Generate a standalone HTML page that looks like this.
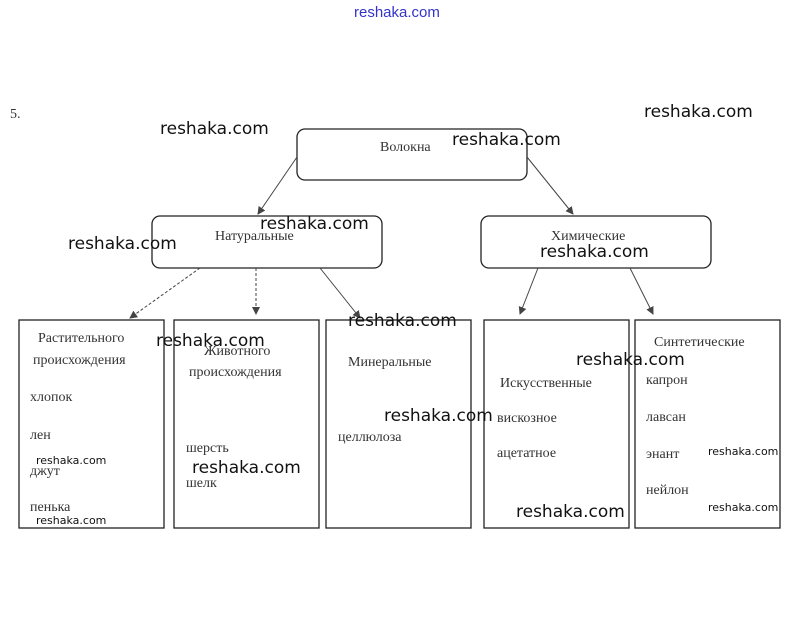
<!DOCTYPE html>
<html><head><meta charset="utf-8"><style>
html,body{margin:0;padding:0;background:#fff;width:804px;height:629px;overflow:hidden}
svg{display:block}
.s{font-family:"Liberation Serif",serif;font-size:14px;fill:#333}
.w{font-family:"DejaVu Sans","Liberation Sans",sans-serif;font-size:17px;fill:#111}
.ws{font-family:"DejaVu Sans","Liberation Sans",sans-serif;font-size:11px;fill:#111}
</style></head><body>
<svg width="804" height="629" viewBox="0 0 804 629">
<defs><marker id="a" markerWidth="8" markerHeight="8" refX="7" refY="4" orient="auto"><path d="M0,0 L8,4 L0,8 z" fill="#444"/></marker></defs>
<text x="354" y="17" font-family="Liberation Sans,sans-serif" font-size="15" fill="#3333cc">reshaka.com</text>
<text x="10" y="118" class="s" font-size="16">5.</text>
<g fill="none" stroke="#222" stroke-width="1.3">
<rect x="297" y="129" width="230" height="51" rx="8"/>
<rect x="152" y="216" width="230" height="52" rx="8"/>
<rect x="481" y="216" width="230" height="52" rx="8"/>
<rect x="19" y="320" width="145" height="208"/>
<rect x="174" y="320" width="145" height="208"/>
<rect x="326" y="320" width="145" height="208"/>
<rect x="484" y="320" width="145" height="208"/>
<rect x="635" y="320" width="145" height="208"/>
</g>
<g stroke="#444" stroke-width="1" fill="none" marker-end="url(#a)">
<line x1="297" y1="157" x2="258" y2="214"/>
<line x1="527" y1="157" x2="573" y2="214"/>
<line x1="200" y1="268" x2="130" y2="318" stroke-dasharray="3,2"/>
<line x1="256" y1="268" x2="256" y2="314" stroke-dasharray="3,2"/>
<line x1="320" y1="268" x2="360" y2="318"/>
<line x1="538" y1="268" x2="520" y2="314"/>
<line x1="630" y1="268" x2="653" y2="314"/>
</g>
<text x="380" y="151" class="s">Волокна</text>
<text x="215" y="240" class="s">Натуральные</text>
<text x="551" y="240" class="s">Химические</text>
<text x="38" y="342" class="s">Растительного</text>
<text x="33" y="364" class="s">происхождения</text>
<text x="204" y="355" class="s" fill="#777">Животного</text>
<text x="189" y="376" class="s">происхождения</text>
<text x="348" y="366" class="s" fill="#777">Минеральные</text>
<text x="500" y="387" class="s">Искусственные</text>
<text x="654" y="346" class="s" fill="#777">Синтетические</text>
<g class="s">
<text x="30" y="401">хлопок</text><text x="30" y="439">лен</text><text x="30" y="475">джут</text><text x="30" y="511">пенька</text>
<text x="186" y="452">шерсть</text><text x="186" y="487">шелк</text>
<text x="338" y="441">целлюлоза</text>
<text x="497" y="422">вискозное</text><text x="497" y="457">ацетатное</text>
<text x="646" y="384">капрон</text><text x="646" y="421">лавсан</text><text x="646" y="458">энант</text><text x="646" y="494">нейлон</text>
</g>
<g class="w">
<text x="644" y="117">reshaka.com</text>
<text x="160" y="134">reshaka.com</text>
<text x="452" y="145">reshaka.com</text>
<text x="260" y="229">reshaka.com</text>
<text x="68" y="249">reshaka.com</text>
<text x="540" y="257">reshaka.com</text>
<text x="348" y="326">reshaka.com</text>
<text x="156" y="346">reshaka.com</text>
<text x="576" y="365">reshaka.com</text>
<text x="384" y="421">reshaka.com</text>
<text x="192" y="473">reshaka.com</text>
<text x="516" y="517">reshaka.com</text>
</g>
<g class="ws" font-size="12">
<text x="36" y="464">reshaka.com</text>
<text x="36" y="524">reshaka.com</text>
</g>
<g class="ws" font-size="10">
<text x="708" y="455">reshaka.com</text>
<text x="708" y="511">reshaka.com</text>
</g>
</svg>
</body></html>
